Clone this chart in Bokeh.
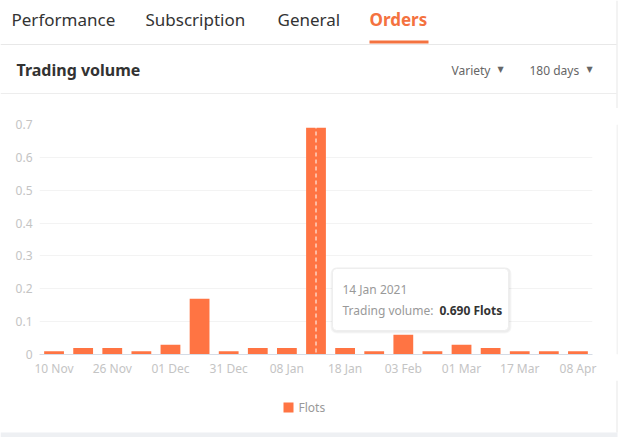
from bokeh.plotting import figure
from bokeh.layouts import column, row
from bokeh.models import (BoxAnnotation, Label, Span, FixedTicker, Range1d)
from bokeh.core.properties import value
from bokeh.embed import file_html
from bokeh.resources import INLINE

# ---- data ----
values = [0.01, 0.02, 0.02, 0.01, 0.03, 0.17, 0.01, 0.02, 0.02, 0.69,
          0.02, 0.01, 0.06, 0.01, 0.03, 0.02, 0.01, 0.01, 0.01]
tick_positions = [0, 2, 4, 6, 8, 10, 12, 14, 16, 18]
tick_labels = ["10 Nov", "26 Nov", "01 Dec", "31 Dec", "08 Jan",
               "18 Jan", "03 Feb", "01 Mar", "17 Mar", "08 Apr"]
y_ticks = [0, 0.1, 0.2, 0.3, 0.4, 0.5, 0.6, 0.7]
tabs = ["Performance", "Subscription", "General", "Orders"]
series_name = "Flots"
highlight_index = 9
tooltip_date = "14 Jan 2021"

W, H = 636, 437
HEADER_H = 108
FOOTER_H = 57
CHART_H = H - HEADER_H - FOOTER_H
CHART_W = 616
L, R, T, B = 39, 592, 124, 354  # frame in canvas px

ORANGE = "#FF7443"
TAB_ORANGE = "#F47240"
FONT = "Noto Sans"
BORDER = "#E8E8E8"


def blank(w, h):
    f = figure(width=w, height=h, output_backend="svg", toolbar_location=None,
               x_range=Range1d(0, w), y_range=Range1d(h, 0), tools="",
               x_axis_type=None, y_axis_type=None, min_border=0)
    f.outline_line_color = None
    f.xgrid.visible = False
    f.ygrid.visible = False
    f.background_fill_color = "white"
    f.border_fill_color = "white"
    return f


def txt(f, x, y, text, size="12px", color="#333333", bold=False, align="left", font=FONT):
    f.text(x=[x], y=[y], text=[text], text_font=value(font), text_font_size=size,
           text_color=color, text_font_style="bold" if bold else "normal",
           text_align=align, text_baseline="middle")


def rect(f, x0, y0, x1, y1, color):
    f.quad(left=[x0], right=[x1], top=[y0], bottom=[y1], fill_color=color, line_color=None)


# ---- header ----
hd = blank(W, HEADER_H)
tab_x = [11, 145, 277, 369]
for i, (tx, name) in enumerate(zip(tab_x, tabs)):
    active = i == len(tabs) - 1
    txt(hd, tx, 19, name, size="17px", color=TAB_ORANGE if active else "#333333", bold=active)
rect(hd, 0, 43.5, 616, 44.5, BORDER)
rect(hd, 369, 40, 428, 43, TAB_ORANGE)
txt(hd, 16, 69, "Trading volume", size="16px", color="#333333", bold=True)
txt(hd, 451, 70, "Variety", size="12px", color="#666666")
txt(hd, 500, 69, "▼", size="8px", color="#666666", align="center", font="DejaVu Sans")
txt(hd, 529, 70, "180 days", size="12px", color="#666666")
txt(hd, 589, 69, "▼", size="8px", color="#666666", align="center", font="DejaVu Sans")
rect(hd, 0, 92.5, 616, 93.5, "#EDEDED")
rect(hd, 616, 0, 617, HEADER_H, BORDER)

# ---- chart ----
p = figure(width=CHART_W, height=CHART_H, output_backend="svg", toolbar_location=None,
           x_range=Range1d(-0.5, len(values) - 0.5), y_range=Range1d(0, 0.7),
           min_border_left=L, min_border_right=CHART_W - R, min_border_top=T - HEADER_H,
           min_border_bottom=HEADER_H + CHART_H - B, tools="")
p.outline_line_color = None
p.background_fill_color = "white"
p.border_fill_color = "white"

xs = list(range(len(values)))
bars = p.vbar(x=xs, top=values, width=0.68, fill_color=ORANGE, line_color=None)

p.xaxis.ticker = FixedTicker(ticks=tick_positions)
p.xaxis.major_label_overrides = {t: l for t, l in zip(tick_positions, tick_labels)}
p.xaxis.axis_line_color = "#D6DCE6"
p.xaxis.major_tick_line_color = None
p.xaxis.minor_tick_line_color = None
p.xaxis.major_tick_out = 0
p.xaxis.major_tick_in = 0
p.xaxis.major_label_text_color = "#C4C4C4"
p.xaxis.major_label_text_font = FONT
p.xaxis.major_label_text_font_size = "12px"
p.xaxis.major_label_standoff = 5

p.yaxis.ticker = FixedTicker(ticks=y_ticks)
p.yaxis.major_label_overrides = {0: "0"}
p.yaxis.axis_line_color = None
p.yaxis.major_tick_line_color = None
p.yaxis.minor_tick_line_color = None
p.yaxis.major_tick_out = 0
p.yaxis.major_tick_in = 0
p.yaxis.major_label_text_color = "#C4C4C4"
p.yaxis.major_label_text_font = FONT
p.yaxis.major_label_text_font_size = "12px"
p.yaxis.major_label_standoff = 7

p.xgrid.grid_line_color = None
p.ygrid.grid_line_color = "#F3F3F3"
p.ygrid.ticker = FixedTicker(ticks=y_ticks)

# axis pointer
p.add_layout(Span(location=highlight_index, dimension="height",
                  line_color="white", line_dash="4 3", line_width=1))


def sx(X):
    return X - L


def sy(Y):
    return B - Y


def box(x0, y0, x1, y1, color, alpha=1.0, line=None, radius=0):
    b = BoxAnnotation(left=sx(x0), right=sx(x1), top=sy(y0), bottom=sy(y1),
                      left_units="screen", right_units="screen",
                      top_units="screen", bottom_units="screen",
                      fill_color=color, fill_alpha=alpha,
                      line_color=line, line_alpha=1.0 if line else 0,
                      border_radius=radius, level="overlay")
    p.add_layout(b)


def label(X, Y, text, size="12px", color="#333", bold=False, align="left", font=FONT):
    p.add_layout(Label(x=sx(X), y=sy(Y), x_units="screen", y_units="screen", text=text,
                       text_font=font, text_font_size=size, text_color=color,
                       text_font_style="bold" if bold else "normal",
                       text_align=align, text_baseline="middle", level="overlay"))


# tooltip
box(330, 267, 511, 333, "#000000", alpha=0.03, radius=6)
box(331, 267, 510, 332, "#000000", alpha=0.04, radius=5)
box(332, 268, 508, 330, "white", line="#EEEEEE", radius=4)
label(342, 289, tooltip_date, size="12px", color="#999999")
label(342, 310, "Trading volume: ", size="12px", color="#999999")
label(439, 310, "%.3f %s" % (values[highlight_index], series_name), size="12px",
      color="#333333", bold=True)

side = blank(W - CHART_W, CHART_H)
rect(side, 0, 0, 1, CHART_H, BORDER)

# ---- footer (legend) ----
ft = blank(W, FOOTER_H)
rect(ft, 616, 0, 617, FOOTER_H - 5, BORDER)
rect(ft, 0, FOOTER_H - 5, 617, FOOTER_H, "#EEF0F3")
rect(ft, 283, 22, 293, 32, ORANGE)
txt(ft, 298, 27, series_name, size="12px", color="#999999")

layout = column(hd, row(p, side, spacing=0), ft, spacing=0)
open("out.html", "w").write(file_html(layout, INLINE))
